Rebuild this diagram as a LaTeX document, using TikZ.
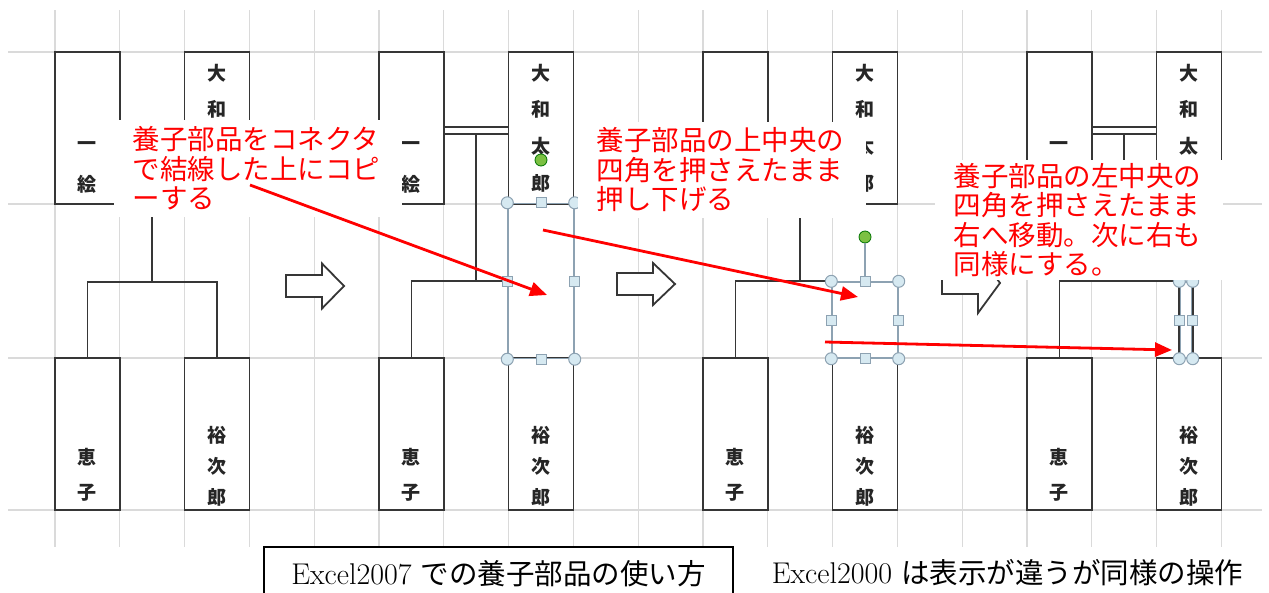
\documentclass[tikz,border=0pt]{standalone}
\usepackage{fontspec}
\newfontfamily\jpfont{Noto Sans CJK JP}
\usepackage{xcolor}
\usetikzlibrary{arrows.meta, positioning, calc}

\definecolor{gridgray}{HTML}{DADADA}
\definecolor{boxgray}{HTML}{363636}
\definecolor{selblue}{HTML}{8DA2B2}
\definecolor{handleblue}{HTML}{D6E9F1}
\definecolor{turngreen}{HTML}{7CC043}

\begin{document}
\begin{tikzpicture}[x=1pt, y=-1pt, every node/.style={align=center},
    gridline/.style={gridgray, line width=1.3pt},
    namebox/.style={
        draw=boxgray,
        line width=1.7pt,
        fill=white,
        minimum width=64.8pt,
        minimum height=152pt,
        inner sep=0pt
    },
    nametext/.style={font=\jpfont\bfseries\fontsize{19}{#1}\selectfont, text=black!85, inner sep=0pt},
    nametext/.default=36,
    link/.style={draw=boxgray, line width=1.8pt},
    selbox/.style={draw=selblue, line width=1.4pt, inner sep=0pt},
    selline/.style={draw=selblue, line width=1.4pt},
    cornerdot/.style={circle, draw=selblue, fill=handleblue, line width=1pt, minimum size=12pt, inner sep=0pt},
    sidedot/.style={rectangle, draw=selblue, fill=handleblue, line width=1pt, minimum size=10pt, inner sep=0pt},
    turndot/.style={circle, draw=green!45!black, fill=turngreen, line width=0.8pt, minimum size=12pt, inner sep=0pt},
    blockarrow/.style={draw=boxgray, line width=1.8pt, fill=white},
    note/.style={
        fill=white,
        text=red,
        align=left,
        text width=250pt,
        inner xsep=19pt,
        inner ysep=0pt,
        font=\jpfont\fontsize{27.5}{29.5}\selectfont
    },
    redarrow/.style={draw=red, line width=2.8pt, -{Triangle[length=17pt, width=14pt]}},
    caption/.style={font=\fontsize{30}{31}\selectfont, inner sep=0pt}]

    % Page and cell grid
    \useasboundingbox (0,0) rectangle (1269,592);
    \fill[white] (0,0) rectangle (1269,592);
    \foreach \k in {0,...,18}
        \draw[gridline] ({55+64.8*\k},10) -- ({55+64.8*\k},547);
    \foreach \r in {52,204,358,510}
        \draw[gridline] (8,\r) -- (1262,\r);

    % Family boxes, one set per panel
    \foreach \p/\c in {1/0, 2/5, 3/10, 4/15} {
        \node[namebox] (ta\p) at ({55+64.8*(\c+0.5)},128) {};
        \node[namebox] (tb\p) at ({55+64.8*(\c+2.5)},128) {};
        \node[namebox] (ba\p) at ({55+64.8*(\c+0.5)},434) {};
        \node[namebox] (bb\p) at ({55+64.8*(\c+2.5)},434) {};
        \node[nametext=41] at ([yshift=-39.5pt]ta\p.center) {一\\絵};
        \node[nametext=36.7] at (tb\p.center) {大\\和\\太\\郎};
        \node[nametext=35] at ([yshift=-40.5pt]ba\p.center) {恵\\子};
        \node[nametext=31] at ([yshift=-32pt]bb\p.center) {裕\\次\\郎};
        % double line between the parents
        \draw[link, double=white, double distance=4.6pt] ([yshift=-2.5pt]ta\p.east) -- ([yshift=-2.5pt]tb\p.west);
    }

    % Panel 1: plain connector
    \coordinate (j1) at ($(ta1.east)!0.5!(tb1.west)+(0,154)$);
    \draw[link] ($(ta1.east)!0.5!(tb1.west)+(0,6)$) -- (j1);
    \draw[link] (ba1.north) |- (j1) -| (bb1.north);

    % Panel 2: part copied on top
    \node[selbox, minimum width=66pt, minimum height=155pt] (sel2) at (541,281) {};
    \coordinate (j2) at ($(ta2.east)!0.5!(tb2.west)+(0,153)$);
    \draw[link] ($(ta2.east)!0.5!(tb2.west)+(0,6)$) -- (j2);
    \draw[link] (ba2.north) |- (sel2.west);
    \node[turndot] (turn2) at (541,160) {};

    % Panel 3: part pushed down
    \node[selbox, minimum width=66pt, minimum height=76pt] (sel3) at (865,320) {};
    \coordinate (j3) at ($(ta3.east)!0.5!(tb3.west)+(0,154)$);
    \draw[link] ($(ta3.east)!0.5!(tb3.west)+(0,6)$) -- (j3);
    \draw[link] (ba3.north) |- (sel3.north west);
    \node[turndot] (turn3) at (865,237) {};
    \draw[selline] (sel3.north) -- (turn3.south);

    % Panel 4: part squeezed to the right
    \node[selbox, minimum width=12pt, minimum height=76pt] (sel4) at (1186,320) {};
    \coordinate (j4) at ($(ta4.east)!0.5!(tb4.west)+(0,154)$);
    \draw[link] ($(ta4.east)!0.5!(tb4.west)+(0,6)$) -- (j4);
    \draw[link] (ba4.north) |- (sel4.north west);
    \draw[link] (sel4.north west) -- (sel4.south west);
    \draw[link] (sel4.north east) -- (sel4.south east);

    % Handles
    \foreach \s in {2,3} {
        \foreach \a in {north, south, east, west}
            \node[sidedot] at (sel\s.\a) {};
        \foreach \a in {north west, north east, south west, south east}
            \node[cornerdot] at (sel\s.\a) {};
    }
    \node[sidedot] at (sel4.west) {};
    \node[sidedot] at (sel4.east) {};
    \foreach \a in {north west, north east, south west, south east}
        \node[cornerdot] at (sel4.\a) {};

    % Step arrows between panels
    \foreach \bx/\by/\hw in {286/286/22.5, 617/284/21, 942/283/30}
        \draw[blockarrow] (\bx,\by-11) -- ++(36,0) -- ++(0,11-\hw) -- (\bx+58,\by)
            -- (\bx+36,\by+\hw) -- ++(0,11-\hw) -- (\bx,\by+11) -- cycle;

    % Notes in red
    \node[note, minimum height=97pt] (note1) at (257.5,168.5) {養子部品をコネクタ\\で結線した上にコピ\\ーする};
    \node[note, minimum height=96pt] (note2) at (721.5,170) {養子部品の上中央の\\四角を押さえたまま\\押し下げる};
    \node[note, minimum height=120pt] (note3) at (1078.5,220) {養子部品の左中央の\\四角を押さえたまま\\右へ移動。次に右も\\同様にする。};

    % Red pointers
    \coordinate (tail1) at (250,185);
    \coordinate (head1) at (547,295);
    \coordinate (tail2) at (543,230);
    \coordinate (head2) at (858,297);
    \coordinate (tail3) at (825,342);
    \coordinate (head3) at (1172,350);
    \draw[redarrow] (tail1) -- (head1);
    \draw[redarrow] (tail2) -- (head2);
    \draw[redarrow] (tail3) -- (head3);

    % Captions
    \node[caption, draw=black, line width=1.3pt, minimum width=469pt, minimum height=54pt] (cap1) at (498.5,574) {Excel2007 {\jpfont\fontsize{28.5}{31}\selectfont での養子部品の使い方}};
    \node[caption] (cap2) at (1007.5,573) {Excel2000 {\jpfont\fontsize{28.5}{31}\selectfont は表示が違うが同様の操作}};

\end{tikzpicture}
\end{document}
